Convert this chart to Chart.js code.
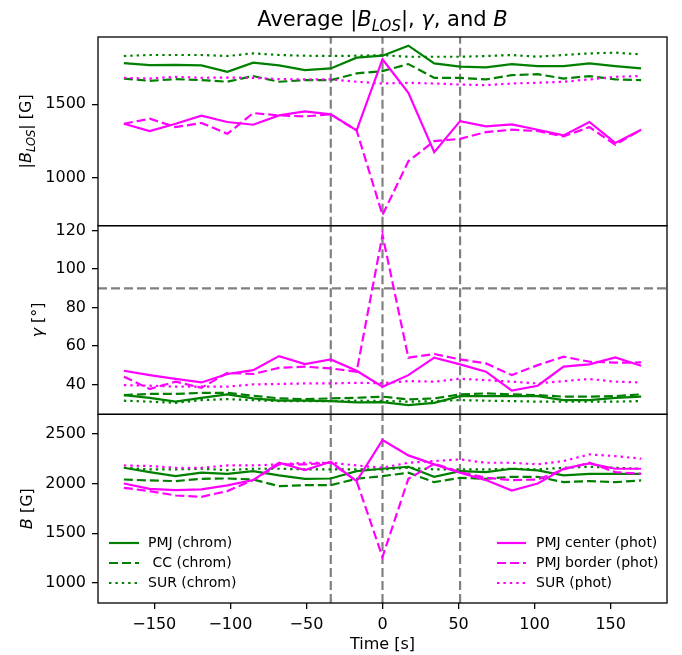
<!DOCTYPE html>
<html>
<head>
<meta charset="utf-8">
<script src="https://cdn.jsdelivr.net/npm/chart.js@4.4.0/dist/chart.umd.min.js"></script>
<style>
  html, body { margin: 0; padding: 0; background: #fff; }
</style>
</head>
<body>
<canvas id="grafico" width="682" height="655"></canvas>
<script>
// ----------------------
// DATOS
// ----------------------
const tiempos = [-170, -153, -136, -119, -102, -85, -68, -51, -34, -17, 0,
  17, 34, 51, 68, 85, 102, 119, 136, 153, 170];

const ticksX = [-150, -100, -50, 0, 50, 100, 150];
const ticksBlos = [1000, 1500];
const ticksGamma = [40, 60, 80, 100, 120];
const ticksB = [1000, 1500, 2000, 2500];
const lineasVerticales = [-34, 0, 51];
const lineaGamma = 90;

// |B_LOS| [G]
const blosPmjChrom = [1782, 1768, 1770, 1766, 1722, 1784, 1766, 1734, 1745, 1819, 1832, 1901, 1780, 1757, 1752, 1775, 1761, 1761, 1780, 1761, 1745];
const blosCcChrom = [1676, 1660, 1672, 1665, 1654, 1693, 1654, 1665, 1665, 1711, 1727, 1775, 1681, 1681, 1670, 1699, 1706, 1676, 1693, 1670, 1665];
const blosSurChrom = [1830, 1837, 1837, 1837, 1830, 1848, 1837, 1832, 1830, 1832, 1836, 1825, 1825, 1825, 1830, 1837, 1825, 1837, 1848, 1853, 1841];
const blosPmjCenter = [1367, 1317, 1367, 1422, 1379, 1360, 1424, 1452, 1431, 1321, 1808, 1578, 1172, 1385, 1349, 1362, 1326, 1287, 1379, 1236, 1326];
const blosPmjBorder = [1367, 1401, 1344, 1372, 1298, 1440, 1424, 1417, 1431, 1321, 743, 1110, 1248, 1264, 1310, 1326, 1317, 1280, 1344, 1223, 1326];
const blosSurPhot = [1681, 1676, 1688, 1681, 1683, 1681, 1672, 1670, 1670, 1654, 1642, 1647, 1642, 1635, 1631, 1642, 1647, 1654, 1670, 1688, 1693];

// gamma [deg]
const gamPmjChrom = [34.4, 33.0, 31.0, 33.0, 34.8, 32.7, 31.5, 31.5, 31.3, 30.6, 30.8, 29.2, 30.4, 33.9, 33.9, 33.9, 33.9, 31.8, 31.8, 33.0, 33.6];
const gamCcChrom = [34.4, 35.0, 35.0, 35.6, 35.6, 34.1, 32.7, 32.3, 32.7, 33.0, 33.6, 32.2, 32.7, 34.8, 35.3, 34.8, 34.4, 33.6, 33.6, 33.9, 34.8];
const gamSurChrom = [31.5, 31.0, 30.4, 31.8, 32.3, 31.8, 31.3, 31.3, 31.3, 31.5, 31.4, 31.0, 31.3, 31.8, 31.5, 31.3, 31.0, 31.0, 31.0, 31.0, 31.3];
const gamPmjCenter = [47.1, 44.8, 42.9, 41.0, 45.4, 47.4, 54.7, 50.6, 53.0, 47.1, 38.8, 44.8, 53.9, 50.4, 46.6, 36.7, 39.3, 49.2, 50.4, 54.0, 49.7];
const gamPmjBorder = [44.0, 37.6, 41.4, 38.2, 46.0, 45.4, 48.6, 49.2, 48.3, 46.6, 117.8, 53.9, 55.8, 53.0, 50.9, 44.8, 50.0, 54.4, 51.8, 51.3, 51.4];
const gamSurPhot = [39.6, 39.3, 38.8, 38.8, 38.8, 40.0, 40.2, 40.5, 40.5, 40.8, 40.6, 41.7, 41.4, 42.9, 42.2, 41.4, 40.5, 41.7, 42.8, 41.4, 41.0];

// B [G]
const bPmjChrom = [2158, 2114, 2074, 2108, 2097, 2124, 2081, 2047, 2050, 2124, 2148, 2168, 2067, 2124, 2114, 2148, 2131, 2081, 2097, 2097, 2097];
const bCcChrom = [2040, 2030, 2024, 2047, 2050, 2040, 1973, 1983, 1983, 2047, 2074, 2108, 2013, 2057, 2047, 2067, 2067, 2013, 2024, 2013, 2030];
const bSurChrom = [2158, 2141, 2141, 2148, 2134, 2148, 2148, 2141, 2141, 2141, 2141, 2158, 2141, 2141, 2141, 2148, 2141, 2158, 2168, 2158, 2148];
const bPmjCenter = [2000, 1946, 1933, 1940, 1980, 2034, 2208, 2134, 2218, 2024, 2437, 2282, 2192, 2108, 2034, 1929, 2000, 2148, 2202, 2148, 2148];
const bPmjBorder = [1956, 1923, 1879, 1866, 1923, 2034, 2192, 2192, 2208, 2024, 1260, 2047, 2198, 2114, 2057, 2034, 2040, 2141, 2208, 2114, 2097];
const bSurPhot = [2181, 2175, 2158, 2158, 2181, 2181, 2192, 2208, 2208, 2181, 2158, 2208, 2225, 2242, 2208, 2208, 2192, 2225, 2292, 2275, 2249];

const etiquetasChrom = ['PMJ (chrom)', ' CC (chrom)', 'SUR (chrom)'];
const etiquetasPhot = ['PMJ center (phot)', 'PMJ border (phot)', 'SUR (phot)'];

// ----------------------
// ESTILOS
// ----------------------
const VERDE = '#008000';
const MAGENTA = '#ff00ff';
const GRIS = '#808080';
const FUENTE = 'DejaVu Sans';
const estilos = [
  { dash: [] },
  { dash: [9, 4] },
  { dash: [2.4, 4] }
];

function serie(valores, color, estilo, eje) {
  return {
    data: valores.map((v, i) => ({ x: tiempos[i], y: v })),
    borderColor: color,
    borderWidth: 2.2,
    borderDash: estilos[estilo].dash,
    pointRadius: 0,
    tension: 0,
    fill: false,
    yAxisID: eje
  };
}

// magenta first so it is drawn on top
const series = [
  serie(blosPmjCenter, MAGENTA, 0, 'yB'),
  serie(blosPmjBorder, MAGENTA, 1, 'yB'),
  serie(blosSurPhot, MAGENTA, 2, 'yB'),
  serie(gamPmjCenter, MAGENTA, 0, 'yG'),
  serie(gamPmjBorder, MAGENTA, 1, 'yG'),
  serie(gamSurPhot, MAGENTA, 2, 'yG'),
  serie(bPmjCenter, MAGENTA, 0, 'yT'),
  serie(bPmjBorder, MAGENTA, 1, 'yT'),
  serie(bSurPhot, MAGENTA, 2, 'yT'),
  serie(blosPmjChrom, VERDE, 0, 'yB'),
  serie(blosCcChrom, VERDE, 1, 'yB'),
  serie(blosSurChrom, VERDE, 2, 'yB'),
  serie(gamPmjChrom, VERDE, 0, 'yG'),
  serie(gamCcChrom, VERDE, 1, 'yG'),
  serie(gamSurChrom, VERDE, 2, 'yG'),
  serie(bPmjChrom, VERDE, 0, 'yT'),
  serie(bCcChrom, VERDE, 1, 'yT'),
  serie(bSurChrom, VERDE, 2, 'yT')
];

function ejeY(min, max, marcas, peso) {
  return {
    type: 'linear',
    position: 'left',
    stack: 'paneles',
    stackWeight: 1,
    weight: peso,
    min, max,
    afterBuildTicks: s => { s.ticks = marcas.map(v => ({ value: v })); },
    ticks: { padding: 6, color: '#000', font: { size: 16 }, callback: v => String(v) },
    grid: { drawOnChartArea: false, tickLength: 6, tickColor: '#000', lineWidth: 1.3 },
    border: { display: false },
    afterFit: s => { s.width = 98; }
  };
}

// ----------------------
// TEXTO CON SUBINDICES
// ----------------------
function fuente(p, base) {
  return (p.it ? 'italic ' : '') + (p.s || base) + 'px "' + FUENTE + '"';
}

function textoCompuesto(ctx, partes, base, cx, cy, rotar) {
  ctx.save();
  ctx.translate(cx, cy);
  if (rotar) ctx.rotate(-Math.PI / 2);
  let total = 0;
  partes.forEach(p => { ctx.font = fuente(p, base); total += ctx.measureText(p.t).width; });
  let x = -total / 2;
  ctx.fillStyle = '#000';
  ctx.textBaseline = 'alphabetic';
  ctx.textAlign = 'left';
  partes.forEach(p => {
    ctx.font = fuente(p, base);
    ctx.fillText(p.t, x, p.dy || 0);
    x += ctx.measureText(p.t).width;
  });
  ctx.restore();
}

const pluginPaneles = {
  id: 'paneles',
  beforeDatasetsDraw(chart) {
    const { ctx, chartArea: a, scales } = chart;
    ctx.save();
    ctx.strokeStyle = GRIS;
    ctx.lineWidth = 2.2;
    ctx.setLineDash([9, 4]);
    ['yT', 'yG', 'yB'].forEach(id => {
      const s = scales[id];
      lineasVerticales.forEach(t => {
        const x = scales.x.getPixelForValue(t);
        ctx.beginPath();
        ctx.moveTo(x, s.bottom);
        ctx.lineTo(x, s.top);
        ctx.stroke();
      });
    });
    const y = scales.yG.getPixelForValue(lineaGamma);
    ctx.beginPath();
    ctx.moveTo(a.left, y);
    ctx.lineTo(a.right, y);
    ctx.stroke();
    ctx.restore();
  },
  afterDraw(chart) {
    const { ctx, chartArea: a, scales } = chart;
    ctx.save();
    ctx.strokeStyle = '#000';
    ctx.lineWidth = 1.3;
    ['yB', 'yG', 'yT'].forEach(id => {
      const s = scales[id];
      ctx.strokeRect(a.left, s.top, a.right - a.left, s.bottom - s.top);
    });
    ctx.restore();

    // Titulo
    textoCompuesto(ctx, [
      { t: 'Average ' }, { t: '|' }, { t: 'B', it: true }, { t: 'LOS', it: true, s: 15, dy: 4.5 },
      { t: '|' }, { t: ', ' }, { t: 'γ', it: true }, { t: ', and ' }, { t: 'B', it: true }
    ], 21, (a.left + a.right) / 2, 26, false);

    // Ejes
    textoCompuesto(ctx, [
      { t: '|' }, { t: 'B', it: true }, { t: 'LOS', it: true, s: 11.5, dy: 3.5 }, { t: '| [G]' }
    ], 16, 31, (scales.yB.top + scales.yB.bottom) / 2, true);
    textoCompuesto(ctx, [{ t: 'γ', it: true }, { t: ' [°]' }], 16, 43,
      (scales.yG.top + scales.yG.bottom) / 2, true);
    textoCompuesto(ctx, [{ t: 'B', it: true }, { t: ' [G]' }], 16, 32,
      (scales.yT.top + scales.yT.bottom) / 2, true);
    textoCompuesto(ctx, [{ t: 'Time [s]' }], 16, (a.left + a.right) / 2, 649, false);

    // Leyendas
    const filas = [543, 563, 583];
    const leyenda = (etiquetas, color, x1, x2, xt) => {
      etiquetas.forEach((et, i) => {
        ctx.save();
        ctx.strokeStyle = color;
        ctx.lineWidth = 2.2;
        ctx.setLineDash(estilos[i].dash);
        ctx.beginPath();
        ctx.moveTo(x1, filas[i]);
        ctx.lineTo(x2, filas[i]);
        ctx.stroke();
        ctx.restore();
        ctx.save();
        ctx.fillStyle = '#000';
        ctx.font = '14px "' + FUENTE + '"';
        ctx.textBaseline = 'middle';
        ctx.fillText(et, xt, filas[i]);
        ctx.restore();
      });
    };
    leyenda(etiquetasChrom, VERDE, 109, 139, 148);
    leyenda(etiquetasPhot, MAGENTA, 497, 526, 536);
  }
};

// ----------------------
// GRAFICO
// ----------------------
Chart.defaults.font.family = FUENTE;
Chart.defaults.color = '#000';

new Chart(document.getElementById('grafico').getContext('2d'), {
  type: 'line',
  data: { datasets: series },
  options: {
    responsive: false,
    animation: false,
    devicePixelRatio: 1,
    layout: { padding: { top: 37, right: 15, bottom: 0, left: 0 } },
    plugins: { legend: { display: false }, tooltip: { enabled: false }, title: { display: false } },
    scales: {
      x: {
        type: 'linear',
        min: -187, max: 187,
        afterBuildTicks: s => { s.ticks = ticksX.map(v => ({ value: v })); },
        ticks: {
          padding: 6, maxRotation: 0, color: '#000', font: { size: 16 },
          callback: v => (v < 0 ? '\u2212' + Math.abs(v) : String(v))
        },
        grid: { drawOnChartArea: false, tickLength: 6, tickColor: '#000', lineWidth: 1.3 },
        border: { display: false },
        afterFit: s => { s.height = 52; }
      },
      yT: ejeY(798, 2695, ticksB, 1),
      yG: ejeY(24.4, 122.6, ticksGamma, 2),
      yB: ejeY(670, 1960, ticksBlos, 3)
    }
  },
  plugins: [pluginPaneles]
});
</script>
</body>
</html>
